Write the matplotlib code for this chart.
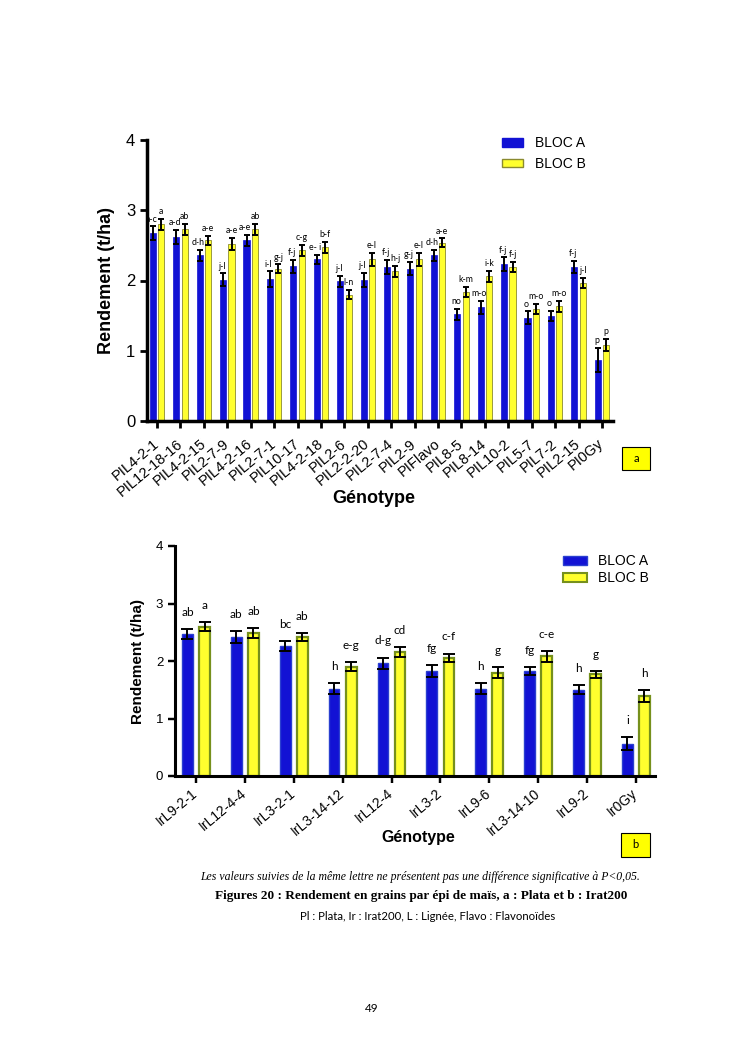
import numpy as np
import matplotlib.pyplot as plt
from matplotlib.patches import Patch, Rectangle

plt.rcParams['font.family'] = ['Liberation Sans', 'DejaVu Sans']

# Figure a : Plata
plata_geno = ["PIL4-2-1", "PIL12-18-16", "PIL4-2-15", "PIL2-7-9", "PIL4-2-16",
              "PIL2-7-1", "PIL10-17", "PIL4-2-18", "PIL2-6", "PIL2-2-20",
              "PIL2-7-4", "PIL2-9", "PIFlavo", "PIL8-5", "PIL8-14",
              "PIL10-2", "PIL5-7", "PIL7-2", "PIL2-15", "PI0Gy"]
plata_A = [2.67, 2.62, 2.36, 2.01, 2.57, 2.02, 2.20, 2.30, 1.99, 2.01,
           2.19, 2.17, 2.36, 1.52, 1.62, 2.23, 1.47, 1.50, 2.19, 0.87]
plata_A_err = [0.10, 0.10, 0.08, 0.09, 0.08, 0.11, 0.09, 0.07, 0.08, 0.10,
               0.10, 0.09, 0.08, 0.08, 0.09, 0.10, 0.09, 0.07, 0.09, 0.17]
plata_B = [2.80, 2.73, 2.57, 2.52, 2.73, 2.17, 2.43, 2.47, 1.80, 2.30,
           2.13, 2.30, 2.54, 1.84, 2.06, 2.19, 1.60, 1.63, 1.97, 1.08]
plata_B_err = [0.08, 0.08, 0.06, 0.09, 0.08, 0.06, 0.08, 0.08, 0.07, 0.09,
               0.08, 0.09, 0.06, 0.07, 0.08, 0.07, 0.07, 0.08, 0.07, 0.09]
plata_A_let = ["a-c", "a-d", "d-h", "j-l", "a-e", "i-l", "f-j", "e- i", "j-l", "j-l",
               "f-j", "g-j", "d-h", "no", "m-o", "f-j", "o", "o", "f-j", "p"]
plata_B_let = ["a", "ab", "a-e", "a-e", "ab", "g-j", "c-g", "b-f", "l-n", "e-l",
               "h-j", "e-l", "a-e", "k-m", "i-k", "f-j", "m-o", "m-o", "j-l", "p"]

# Figure b : Irat200
irat_geno = ["IrL9-2-1", "IrL12-4-4", "IrL3-2-1", "IrL3-14-12", "IrL12-4",
             "IrL3-2", "IrL9-6", "IrL3-14-10", "IrL9-2", "Ir0Gy"]
irat_A = [2.47, 2.42, 2.26, 1.52, 1.96, 1.83, 1.52, 1.83, 1.50, 0.56]
irat_A_err = [0.09, 0.10, 0.08, 0.09, 0.10, 0.10, 0.10, 0.07, 0.08, 0.11]
irat_B = [2.60, 2.49, 2.42, 1.90, 2.16, 2.06, 1.80, 2.08, 1.77, 1.39]
irat_B_err = [0.08, 0.09, 0.07, 0.08, 0.09, 0.07, 0.09, 0.09, 0.06, 0.10]
irat_A_let = ["ab", "ab", "bc", "h", "d-g", "fg", "h", "fg", "h", "i"]
irat_B_let = ["a", "ab", "ab", "e-g", "cd", "c-f", "g", "c-e", "g", "h"]

blue = '#1212d4'
yellow = '#ffff2e'

W, H = 745, 1053
fig = plt.figure(figsize=(W / 100, H / 100), dpi=100)


def px_axes(l, t, r, b):
    return fig.add_axes([l / W, 1 - b / H, (r - l) / W, (b - t) / H])


def style_axes(ax, lw):
    for s in ['top', 'right']:
        ax.spines[s].set_visible(False)
    for s in ['left', 'bottom']:
        ax.spines[s].set_linewidth(lw)
    ax.tick_params(axis='both', width=lw * 0.8, length=5, direction='out')


# ---------------- chart a
ax = px_axes(147, 140, 613, 421)
x = np.arange(len(plata_geno))
off, bw = 0.18, 0.26
ax.bar(x - off, plata_A, bw, color=blue, edgecolor=blue, linewidth=0.5)
ax.bar(x + off, plata_B, bw, color=yellow, edgecolor='#8a8a30', linewidth=0.6)
ax.errorbar(x - off, plata_A, yerr=plata_A_err, fmt='none', ecolor='black',
            elinewidth=1.4, capsize=2.5, capthick=1.4)
ax.errorbar(x + off, plata_B, yerr=plata_B_err, fmt='none', ecolor='black',
            elinewidth=1.4, capsize=2.5, capthick=1.4)
for i in range(len(x)):
    ax.annotate(plata_A_let[i], (x[i] - off, plata_A[i] + plata_A_err[i]),
                xytext=(-1, 2), textcoords='offset points', ha='center',
                va='bottom', fontsize=6.3, family=['Lato', 'DejaVu Sans'])
    ax.annotate(plata_B_let[i], (x[i] + off, plata_B[i] + plata_B_err[i]),
                xytext=(0, 2), textcoords='offset points', ha='center',
                va='bottom', fontsize=6.3, family=['Lato', 'DejaVu Sans'])
ax.set_xlim(-0.43, len(x) - 1 + 0.47)
ax.set_ylim(0, 4)
ax.set_yticks([0, 1, 2, 3, 4])
ax.set_xticks(x)
ax.set_xticklabels(plata_geno, rotation=40, ha='right', va='center',
                   rotation_mode='anchor', fontsize=10.5)
style_axes(ax, 2.5)
ax.tick_params(axis='y', labelsize=12)
ax.tick_params(axis='x', pad=10)
ax.set_ylabel('Rendement (t/ha)', fontsize=13, fontweight='bold', labelpad=8)
ax.set_xlabel('Génotype', fontsize=13, fontweight='bold')
ax.xaxis.set_label_coords(0.487, -0.245)
handles = [Patch(facecolor=blue, edgecolor=blue, label='BLOC A'),
           Patch(facecolor=yellow, edgecolor='#8a8a30', label='BLOC B')]
fig.legend(handles=handles, loc='upper left', bbox_to_anchor=(502 / W, 1 - 136 / H),
           frameon=False, fontsize=10, borderpad=0, borderaxespad=0,
           handlelength=1.5, handleheight=0.6, handletextpad=0.85, labelspacing=0.5)

# ---------------- chart b
ax2 = px_axes(175, 546, 655, 776)
x2 = np.arange(len(irat_geno))
off2, bw2 = 0.175, 0.22
ax2.bar(x2 - off2, irat_A, bw2, color=blue, edgecolor='#2a3fd0', linewidth=1.0)
ax2.bar(x2 + off2, irat_B, bw2, color=yellow, edgecolor='#76901c', linewidth=1.6)
ax2.errorbar(x2 - off2, irat_A, yerr=irat_A_err, fmt='none', ecolor='black',
             elinewidth=1.4, capsize=4, capthick=1.4)
ax2.errorbar(x2 + off2, irat_B, yerr=irat_B_err, fmt='none', ecolor='black',
             elinewidth=1.4, capsize=4, capthick=1.4)
for i in range(len(x2)):
    ax2.annotate(irat_A_let[i], (x2[i] - off2, irat_A[i] + irat_A_err[i]),
                 xytext=(0, 8), textcoords='offset points', ha='center',
                 va='bottom', fontsize=8.5, family=['Lato', 'DejaVu Sans'])
    ax2.annotate(irat_B_let[i], (x2[i] + off2, irat_B[i] + irat_B_err[i]),
                 xytext=(0, 8), textcoords='offset points', ha='center',
                 va='bottom', fontsize=8.5, family=['Lato', 'DejaVu Sans'])
ax2.set_xlim(-0.43, len(x2) - 1 + 0.39)
ax2.set_ylim(0, 4)
ax2.set_yticks([0, 1, 2, 3, 4])
ax2.set_xticks(x2)
ax2.set_xticklabels(irat_geno, rotation=40, ha='right', va='center',
                    rotation_mode='anchor', fontsize=10)
style_axes(ax2, 2.2)
ax2.tick_params(axis='y', labelsize=9.5)
ax2.tick_params(axis='x', pad=6)
ax2.set_ylabel('Rendement (t/ha)', fontsize=11, fontweight='bold', labelpad=8)
ax2.set_xlabel('Génotype', fontsize=11.5, fontweight='bold')
ax2.xaxis.set_label_coords(0.506, -0.235)
handles2 = [Patch(facecolor=blue, edgecolor='#2a3fd0', label='BLOC A'),
            Patch(facecolor=yellow, edgecolor='#76901c', linewidth=1.5, label='BLOC B')]
fig.legend(handles=handles2, loc='upper left', bbox_to_anchor=(563 / W, 1 - 554 / H),
           frameon=False, fontsize=10, borderpad=0, borderaxespad=0,
           handlelength=1.7, handleheight=0.6, handletextpad=0.8, labelspacing=0.25)

# panel boxes
for (l, t, r, b), s in [((622, 447, 650, 470), 'a'), ((621, 833, 650, 857), 'b')]:
    fig.patches.append(Rectangle((l / W, 1 - b / H), (r - l) / W, (b - t) / H,
                                 transform=fig.transFigure, facecolor='#ffff00',
                                 edgecolor='black', linewidth=0.8))
    fig.text((l + r) / 2 / W, 1 - (t + b) / 2 / H, s, ha='center', va='center',
             fontsize=8, family=['Lato', 'DejaVu Sans'])

# caption
fig.text(420 / W, 1 - 877 / H,
         'Les valeurs suivies de la même lettre ne présentent pas une différence '
         'significative à P<0,05.', ha='center', va='center', fontsize=8.5,
         style='italic', family=['Liberation Serif', 'DejaVu Serif'])
fig.text(421 / W, 1 - 896 / H,
         'Figures 20 : Rendement en grains par épi de maïs, a : Plata et b : Irat200',
         ha='center', va='center', fontsize=9.5, fontweight='bold',
         family=['Liberation Serif', 'DejaVu Serif'])
fig.text(428 / W, 1 - 916 / H,
         'Pl : Plata, Ir : Irat200, L : Lignée, Flavo : Flavonoïdes',
         ha='center', va='center', fontsize=8.2, family=['Lato', 'DejaVu Sans'])
fig.text(372 / W, 1 - 1009 / H, '49', ha='center', va='center', fontsize=8.5,
         family=['Lato', 'DejaVu Sans'])

fig.savefig('out.png', dpi=100)
